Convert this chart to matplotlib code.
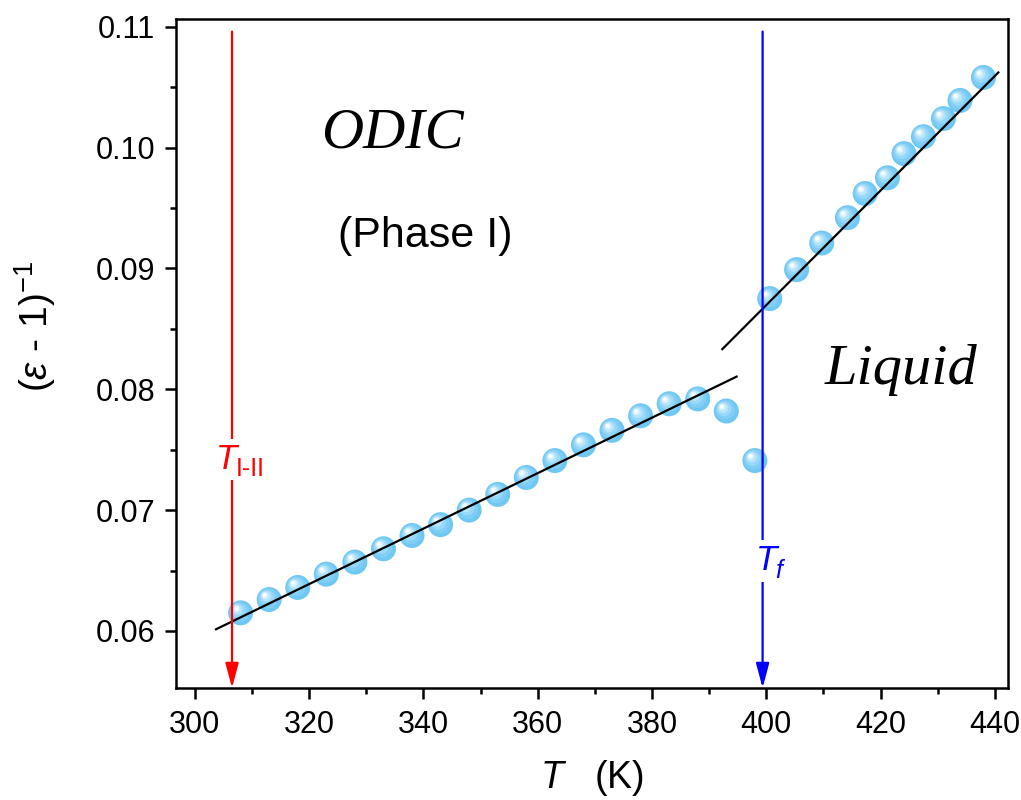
import numpy as np
import matplotlib
matplotlib.use("Agg")
import matplotlib.pyplot as plt
from matplotlib.transforms import offset_copy

plt.rcParams['font.family'] = ['Liberation Sans', 'DejaVu Sans']
plt.rcParams['mathtext.fontset'] = 'custom'
plt.rcParams['mathtext.rm'] = 'Liberation Sans'
plt.rcParams['mathtext.it'] = 'Liberation Sans:italic'
plt.rcParams['mathtext.bf'] = 'Liberation Sans:bold'

# measured points, solid (ODIC) phase incl. the two points near melting
T_solid = [308, 313, 318, 323, 328, 333, 338, 343, 348, 353,
           358, 363, 368, 373, 378, 383, 388, 393, 398]
inv_solid = [0.0615, 0.0626, 0.0636, 0.0647, 0.0657, 0.0668, 0.0679, 0.0688,
             0.0700, 0.0713, 0.0727, 0.0741, 0.0754, 0.0766, 0.0778, 0.0788,
             0.0792, 0.0782, 0.0741]

# liquid phase
T_liq = [400.6, 405.3, 409.7, 414.2, 417.3, 421.2, 424.1, 427.5, 431.0, 433.9, 438.0]
inv_liq = [0.0875, 0.0899, 0.0921, 0.0942, 0.0962, 0.0975, 0.0995, 0.1009,
           0.1024, 0.1039, 0.1058]

# linear fits: slope, intercept, T range
fit_solid = [0.0002295, -0.00956]
fit_solid_range = [303.7, 394.8]
fit_liq = [0.000474, -0.10263]
fit_liq_range = [392.3, 440.6]

# transition temperatures
T_I_II = 306.5
T_f = 399.35

xlim = (296.7, 442.3)
ylim = (0.05528, 0.11064)

fig = plt.figure(figsize=(10.21, 8), dpi=100)
ax = fig.add_axes([0.1724, 0.14, 0.8149, 0.83625])
ax.set_xlim(*xlim)
ax.set_ylim(*ylim)


def spheres(x, y):
    # fake shaded balls: stacked circles getting lighter towards the highlight
    layers = [(1.00, '#6fc7f4', 0.0), (0.80, '#80cef6', 0.8), (0.60, '#98d8f8', 1.6),
              (0.42, '#b9e5fb', 2.3), (0.26, '#def3fd', 2.9), (0.14, '#ffffff', 3.3)]
    d = 18.0
    for frac, col, off in layers:
        tr = offset_copy(ax.transData, fig=fig, x=-off, y=off, units='points')
        ax.scatter(x, y, s=(d * frac) ** 2, color=col, edgecolors='none',
                   transform=tr, zorder=3)


spheres(T_solid, inv_solid)
spheres(T_liq, inv_liq)

# fit lines
for (m, b), (t0, t1) in [(fit_solid, fit_solid_range), (fit_liq, fit_liq_range)]:
    tt = np.array([t0, t1])
    ax.plot(tt, m * tt + b, color='black', lw=1.6, zorder=4)

# transition arrows
for tx, col in [(T_I_II, 'red'), (T_f, 'blue')]:
    ax.annotate('', xy=(tx, ylim[0]), xytext=(tx, 0.1096),
                arrowprops=dict(arrowstyle='-|>,head_length=0.75,head_width=0.2',
                                color=col, lw=1.6, shrinkA=0, shrinkB=0,
                                mutation_scale=20),
                annotation_clip=False, zorder=5)


def temp_label(x, y, sub, col, sub_style='normal'):
    # italic T with a subscript, on a white patch that breaks the arrow line
    t = ax.text(x, y, 'T', color=col, fontsize=25, style='italic',
                ha='left', va='center', zorder=6,
                bbox=dict(facecolor='white', edgecolor='none', pad=3))
    ax.annotate(sub, xy=(1, 0.2), xycoords=t, xytext=(-1, 0), textcoords='offset points',
                color=col, fontsize=18, style=sub_style, ha='left', va='center', zorder=7)


temp_label(T_I_II - 2.9, 0.0742, 'I-II', 'red')
temp_label(T_f - 1.2, 0.0658, 'f', 'blue', 'italic')

# phase labels
ax.text(334.5, 0.1012, 'ODIC', fontsize=42, family='Liberation Serif', style='italic',
        ha='center', va='center')
ax.text(340.3, 0.0927, '(Phase I)', fontsize=31, ha='center', va='center')
ax.text(423.5, 0.0804, 'Liquid', fontsize=42, family='Liberation Serif', style='italic',
        ha='center', va='baseline')

# axes styling
ax.set_xticks(np.arange(300, 441, 20))
ax.set_xticks(np.arange(310, 441, 20), minor=True)
ax.set_yticks([0.06, 0.07, 0.08, 0.09, 0.10, 0.11])
ax.set_yticks([0.065, 0.075, 0.085, 0.095, 0.105], minor=True)
ax.set_yticklabels(['0.06', '0.07', '0.08', '0.09', '0.10', '0.11'])
ax.tick_params(which='major', direction='out', length=8, width=1.8, labelsize=22, pad=7)
ax.tick_params(which='minor', direction='out', length=4, width=1.8)
ax.tick_params(axis='x', pad=8)
for sp in ax.spines.values():
    sp.set_linewidth(1.8)

ax.set_xlabel(r'$T$   (K)', fontsize=27, labelpad=13)
ax.set_ylabel(r'($\varepsilon$ - 1)$^{-1}$', fontsize=28)
ax.yaxis.set_label_coords(-0.142, 0.541)

fig.savefig('out.png', dpi=100, facecolor='white')
